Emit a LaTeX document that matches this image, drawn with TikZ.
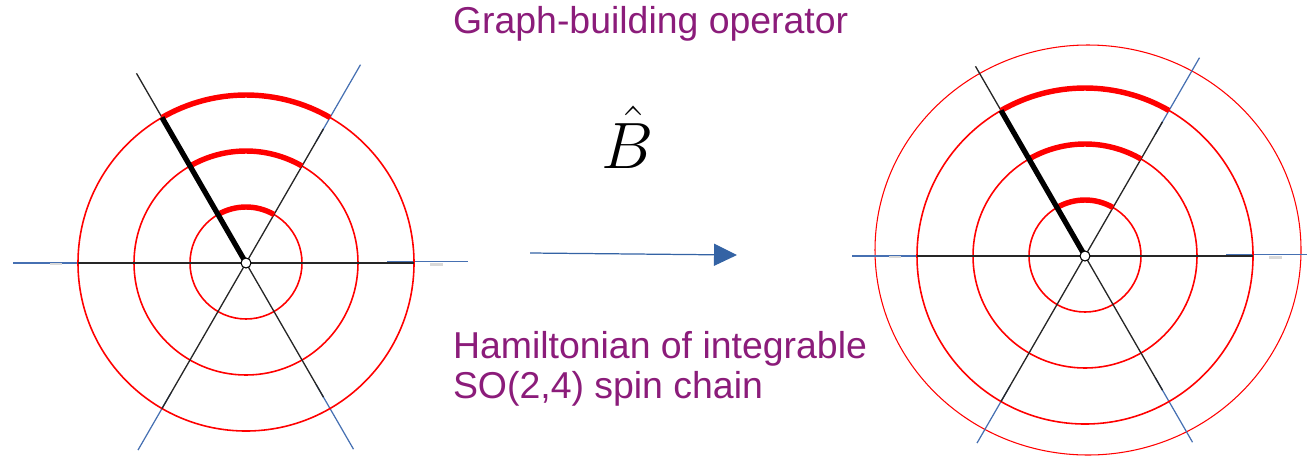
\documentclass[tikz,border=0pt]{standalone}
\usepackage{fontspec}
\setmainfont{Liberation Sans}
\usepackage{tikz}
\usetikzlibrary{arrows.meta}
\definecolor{plum}{RGB}{139,28,122}
\definecolor{steel}{RGB}{70,112,178}
\definecolor{arrblue}{RGB}{52,99,164}

\begin{document}
\begin{tikzpicture}[
  x=0.02cm, y=0.02cm,
  every node/.style={inner sep=0pt, outer sep=0pt},
  purpletext/.style={font=\fontsize{21.3}{23}\selectfont, text=plum, anchor=base west},
  ring/.style={red, line width=0.9pt},
  rim/.style={red, line width=0.6pt},
  band/.style={red, line width=3.1pt},
  spoke/.style={black!85, line width=0.75pt},
  ray/.style={steel, line width=0.7pt},
  smudge/.style={gray!30, line width=1.2pt},
  handle/.style={black, line width=3pt},
  hub/.style={draw=black, fill=white, line width=0.6pt},
  arr/.style={-{Triangle[length=0.46cm, width=0.44cm]}, arrblue, line width=0.7pt},
]
  \useasboundingbox (0,0) rectangle (1307,458);

  \coordinate (wl) at (246,195);
  \coordinate (wr) at (1085,202);

  % outer ring of the right graph only
  \draw[rim] (1088,208) ellipse[x radius=213, y radius=205];

  \foreach \c in {wl,wr} {
    \begin{scope}[shift={(\c)}]
      % blue rays behind the spokes
      \draw[ray] (180:168) -- (180:233);
      \draw[ray] (141,1.5) -- (222,1.5);
      \draw[ray] (60:140) -- (60:229);
      \draw[ray] (240:150) -- (240:216);
      \draw[ray] (300:140) -- (300:215);
      \draw[smudge] (-196,-1) -- (-184,-1);
      \draw[smudge] (184,-1.5) -- (197,-1.5);

      \foreach \r in {56,112,168}
        \draw[ring] (0,0) circle[radius=\r];

      \draw[spoke] (-168,0) -- (168,0);
      \draw[spoke] (0,0) -- (120:219);
      \draw[spoke] (0,0) -- (60:155);
      \draw[spoke] (0,0) -- (240:168);
      \draw[spoke] (0,0) -- (300:155);

      \foreach \r in {56,112,168}
        \draw[band] (60:\r) arc[start angle=60, end angle=120, radius=\r];

      \draw[handle] (0,0) -- (120:168);
      \draw[hub] (0,0) circle[radius=5];
    \end{scope}
  }

  \node[purpletext] (title) at (453,425) {Graph-building operator};
  \node[anchor=base, font=\Huge, scale=1.5] (bhat) at (628,290) {$\hat{B}$};

  \coordinate (arrfrom) at (530,205);
  \coordinate (arrto)   at (737,203);
  \draw[arr] (arrfrom) -- (arrto);

  \node[purpletext] (ham)   at (453,100) {Hamiltonian of integrable};
  \node[purpletext] (chain) at (453,60)  {SO(2,4) spin chain};
\end{tikzpicture}
\end{document}
